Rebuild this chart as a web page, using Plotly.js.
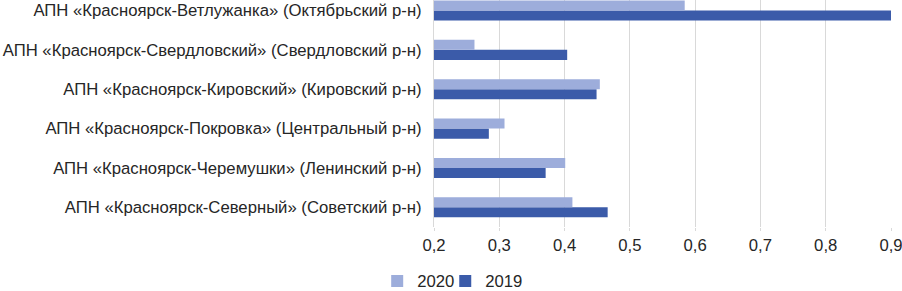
<!DOCTYPE html>
<html><head><meta charset="utf-8">
<script src="https://cdn.plot.ly/plotly-3.0.1.min.js"></script>
<style>html,body{margin:0;padding:0;background:#fff;}#chart{width:902px;height:291px;}</style>
</head><body><div id="chart"></div>
<script>
// bottom-to-top order
const categories = [
  'АПН «Красноярск-Северный» (Советский р-н)',
  'АПН «Красноярск-Черемушки» (Ленинский р-н)',
  'АПН «Красноярск-Покровка» (Центральный р-н)',
  'АПН «Красноярск-Кировский» (Кировский р-н)',
  'АПН «Красноярск-Свердловский» (Свердловский р-н)',
  'АПН «Красноярск-Ветлужанка» (Октябрьский р-н)'
];
const values2019 = [0.466, 0.371, 0.284, 0.449, 0.404, 0.901];
const values2020 = [0.412, 0.401, 0.308, 0.454, 0.262, 0.584];
const tickVals = [0.2, 0.3, 0.4, 0.5, 0.6, 0.7, 0.8, 0.9];
const tickText = ['0,2', '0,3', '0,4', '0,5', '0,6', '0,7', '0,8', '0,9'];

const base = 0.2;
const traces = [
  {type:'bar', orientation:'h', name:'2019', y:categories, x:values2019.map(v=>v-base), base:base,
   marker:{color:'#3B5BA9'}, hoverinfo:'skip', legend:'legend2'},
  {type:'bar', orientation:'h', name:'2020', y:categories, x:values2020.map(v=>v-base), base:base,
   marker:{color:'#9DADDB'}, hoverinfo:'skip', legend:'legend'}
];
const legFont = {size:16.7, color:'#262626'};
const layout = {
  width:902, height:291,
  margin:{l:434, r:11, t:0, b:64, autoexpand:false},
  paper_bgcolor:'#fff', plot_bgcolor:'#fff',
  font:{family:'Liberation Sans, Arial, sans-serif', size:16.7, color:'#262626'},
  barmode:'group', bargap:0.49, bargroupgap:0,
  showlegend:true,
  legend:{orientation:'h', x:-0.1243, xanchor:'left', y:-0.238, yanchor:'middle', font:legFont, bgcolor:'rgba(0,0,0,0)'},
  legend2:{orientation:'h', x:0.0246, xanchor:'left', y:-0.238, yanchor:'middle', font:legFont, bgcolor:'rgba(0,0,0,0)'},
  xaxis:{range:[0.2, 0.9], tickvals:tickVals, ticktext:tickText, showgrid:true, gridcolor:'#D9D9D9', gridwidth:1,
         zeroline:false, showline:false, ticks:'outside', ticklen:3, tickcolor:'#D9D9D9', tickfont:{size:16.7},
         ticklabelstandoff:0, ticklabeloverflow:'allow'},
  yaxis:{type:'category', range:[-0.5, 5.267], showgrid:false, zeroline:false, showline:true, linecolor:'#D9D9D9',
         ticks:'', ticklabelstandoff:8, tickfont:{size:16.7}}
};
Plotly.newPlot('chart', traces, layout, {displayModeBar:false, staticPlot:true});
</script></body></html>
